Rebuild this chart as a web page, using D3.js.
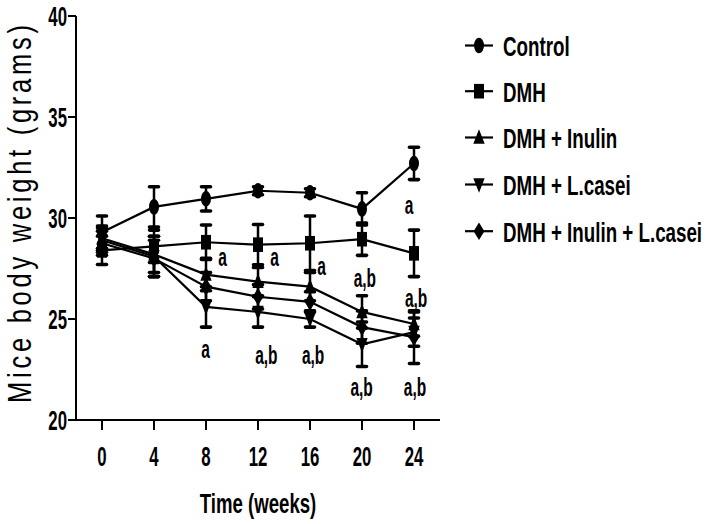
<!DOCTYPE html>
<html>
<head>
<meta charset="utf-8">
<script src="https://cdn.jsdelivr.net/npm/d3@7"></script>
<style>
  html, body { margin: 0; padding: 0; background: #fff; }
  svg { display: block; }
  .nar { font-family: 'Liberation Sans', Arial, sans-serif; font-weight: bold; }
</style>
</head>
<body>
<svg id="chart" width="708" height="524"></svg>
<script>
// ---- data ----
const weeks = [0, 4, 8, 12, 16, 20, 24];
const xTicks = [0, 4, 8, 12, 16, 20, 24];
const yTicks = [20, 25, 30, 35, 40];
const seriesNames = ["Control", "DMH", "DMH + Inulin", "DMH + L.casei", "DMH + Inulin + L.casei"];
const seriesSymbols = ["ellipse", "square", "triUp", "triDown", "diamond"];
const controlMean = [29.3, 30.55, 30.95, 31.35, 31.25, 30.45, 32.7];
const controlErr  = [0.8, 1.0, 0.6, 0.2, 0.2, 0.8, 0.8];
const dmhMean     = [28.4, 28.6, 28.8, 28.68, 28.75, 28.95, 28.25];
const dmhErr      = [0.7, 0.8, 0.85, 1.0, 1.35, 0.8, 1.15];
const inulinMean  = [29.0, 28.2, 27.2, 26.85, 26.6, 25.35, 24.75];
const inulinErr   = [0.6, 0.9, 0.8, 0.7, 0.7, 0.8, 0.6];
const caseiMean   = [28.9, 28.1, 25.6, 25.35, 25.0, 23.75, 24.35];
const caseiErr    = [0.6, 1.0, 1.0, 0.75, 0.4, 1.1, 0.7];
const comboMean   = [28.75, 28.0, 26.6, 26.1, 25.85, 24.6, 24.1];
const comboErr    = [0.6, 0.9, 0.7, 0.6, 0.5, 0.8, 1.3];
const annotLabels = ["a", "a", "a", "a,b", "a,b", "a", "a", "a,b", "a,b", "a,b", "a,b"];
const annotWeek   = [9.28, 13.28, 16.88, 20.22, 24.16, 23.62, 7.96, 12.64, 16.24, 19.97, 24.08];
const annotValue  = [27.6, 27.6, 27.18, 26.58, 25.59, 30.22, 23.07, 22.77, 22.77, 21.19, 21.19];
const xTitle = "Time (weeks)";
const yTitle = "Mice body weight (grams)";

const means = [controlMean, dmhMean, inulinMean, caseiMean, comboMean];
const errs  = [controlErr, dmhErr, inulinErr, caseiErr, comboErr];

// ---- scales ----
const x = d3.scaleLinear().domain([-2, 26]).range([76, 440]);
const y = d3.scaleLinear().domain([20, 40]).range([420, 16]);

const svg = d3.select("#chart");

function markerPath(kind) {
  switch (kind) {
    case "ellipse": return "M0,-7.8 A5,7.8 0 1,1 0,7.8 A5,7.8 0 1,1 0,-7.8 Z";
    case "square": return "M-5,-7.3 L5,-7.3 L5,7.3 L-5,7.3 Z";
    case "triUp": return "M0,-8.3 L5.7,6.3 L-5.7,6.3 Z";
    case "triDown": return "M0,8.3 L5.7,-6.3 L-5.7,-6.3 Z";
    case "diamond": return "M0,-8.8 L5.4,0 L0,8.8 L-5.4,0 Z";
  }
}

function narrowText(g, tx, ty, str, size, sx, anchor) {
  return g.append("text")
    .attr("class", "nar")
    .attr("transform", `translate(${tx},${ty}) scale(${sx},1)`)
    .attr("font-size", size)
    .attr("text-anchor", anchor)
    .attr("fill", "#000")
    .text(str);
}

// ---- axes ----
const axG = svg.append("g");
axG.append("line").attr("x1", x(-2)).attr("x2", x(26)).attr("y1", y(20)).attr("y2", y(20))
  .attr("stroke", "#000").attr("stroke-width", 2);
axG.append("line").attr("x1", x(-2)).attr("x2", x(-2)).attr("y1", y(20) + 1).attr("y2", y(40))
  .attr("stroke", "#000").attr("stroke-width", 2);
yTicks.forEach(t => {
  axG.append("line").attr("x1", x(-2) - 8).attr("x2", x(-2)).attr("y1", y(t)).attr("y2", y(t))
    .attr("stroke", "#000").attr("stroke-width", 2);
  narrowText(axG, x(-2) - 9, y(t) + 10, String(t), 28, 0.6, "end");
});
xTicks.forEach(t => {
  axG.append("line").attr("x1", x(t)).attr("x2", x(t)).attr("y1", y(20)).attr("y2", y(20) + 10)
    .attr("stroke", "#000").attr("stroke-width", 2);
  narrowText(axG, x(t), y(20) + 46, String(t), 28, 0.6, "middle");
});
narrowText(axG, (x(0) + x(24)) / 2, 513, xTitle, 28, 0.665, "middle");

svg.append("text")
  .attr("transform", `translate(31,214) rotate(-90) scale(0.75,1)`)
  .attr("font-family", "'Liberation Sans', Arial, sans-serif")
  .attr("font-size", 34)
  .attr("text-anchor", "middle")
  .attr("textLength", 504)
  .attr("lengthAdjust", "spacing")
  .attr("fill", "#000")
  .text(yTitle);

// ---- error bars ----
const plot = svg.append("g");
means.forEach((m, si) => {
  m.forEach((v, i) => {
    const e = errs[si][i];
    const cx = x(weeks[i]);
    plot.append("line").attr("x1", cx).attr("x2", cx).attr("y1", y(v - e)).attr("y2", y(v + e))
      .attr("stroke", "#000").attr("stroke-width", 2.5);
    [v - e, v + e].forEach(c => {
      plot.append("line").attr("x1", cx - 4.5).attr("x2", cx + 4.5).attr("y1", y(c)).attr("y2", y(c))
        .attr("stroke", "#000").attr("stroke-width", 3.6).attr("stroke-linecap", "round");
    });
  });
});

// ---- lines ----
const line = d3.line().x((d, i) => x(weeks[i])).y(d => y(d));
means.forEach(m => {
  plot.append("path").attr("d", line(m)).attr("fill", "none")
    .attr("stroke", "#000").attr("stroke-width", 2.2);
});

// ---- markers ----
means.forEach((m, si) => {
  m.forEach((v, i) => {
    plot.append("path").attr("d", markerPath(seriesSymbols[si]))
      .attr("transform", `translate(${x(weeks[i])},${y(v)})`)
      .attr("fill", "#000");
  });
});

// ---- annotations ----
annotLabels.forEach((lab, i) => {
  narrowText(plot, x(annotWeek[i]), y(annotValue[i]), lab, 25, 0.62, "middle");
});

// ---- legend ----
const leg = svg.append("g");
const legBase = [56, 101.7, 148, 195, 241.7];
seriesNames.forEach((name, i) => {
  const cy = legBase[i] - 10.5;
  leg.append("line").attr("x1", 465).attr("x2", 493).attr("y1", cy).attr("y2", cy)
    .attr("stroke", "#000").attr("stroke-width", 2.2);
  leg.append("path").attr("d", markerPath(seriesSymbols[i]))
    .attr("transform", `translate(479,${cy})`).attr("fill", "#000");
  narrowText(leg, 503, legBase[i], name, 28, 0.67, "start");
});
</script>
</body>
</html>
